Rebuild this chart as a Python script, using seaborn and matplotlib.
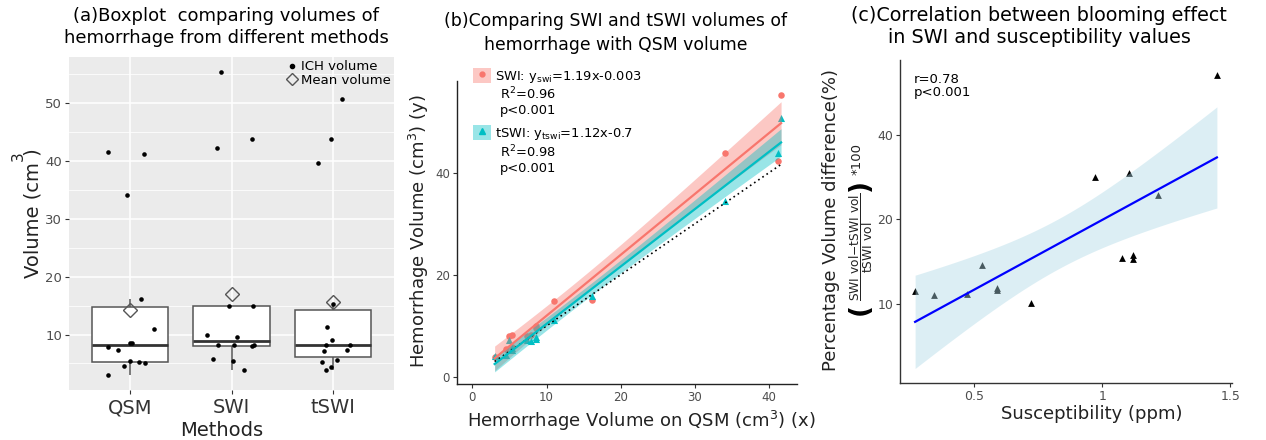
import numpy as np
import pandas as pd
import matplotlib
matplotlib.use("Agg")
import matplotlib.pyplot as plt
import seaborn as sns
from matplotlib.lines import Line2D
from matplotlib.patches import Patch

# ---------------- data ----------------
methods = ["QSM", "SWI", "tSWI"]
qsm_vol = [41.65, 41.2, 34.1, 16.1, 11.0, 8.55, 8.55, 7.9, 7.3, 5.4, 5.3, 5.0, 4.5, 3.0]
swi_vol = [55.35, 43.8, 42.3, 15.0, 14.9, 10.0, 9.65, 8.2, 8.2, 8.1, 7.98, 5.84, 5.5, 3.93]
tswi_vol = [50.75, 43.8, 39.6, 15.3, 11.3, 9.0, 8.2, 8.1, 7.4, 7.2, 5.66, 5.26, 4.33, 3.8]

qsm_x = [3.0, 4.5, 5.0, 5.3, 5.4, 7.3, 7.9, 8.55, 8.55, 11.0, 16.1, 34.1, 41.2, 41.65]
swi_y = [3.93, 5.5, 8.1, 8.2, 5.84, 7.98, 8.2, 9.65, 10.0, 14.9, 15.0, 43.8, 42.3, 55.35]
tswi_y = [4.0, 4.33, 7.3, 5.3, 5.7, 7.2, 7.1, 7.4, 7.9, 11.2, 15.8, 34.5, 43.8, 50.8]

susceptibility = [0.269, 0.342, 0.470, 0.531, 0.587, 0.590, 0.723, 0.971, 1.077, 1.103, 1.121, 1.121, 1.216, 1.448]
pct_diff = [11.1, 10.8, 10.85, 13.7, 11.2, 11.4, 10.1, 28.3, 14.6, 29.1, 14.9, 14.5, 24.3, 65.3]

legend_a = ["ICH volume", "Mean volume"]
legend_b = ["SWI: y$_{\\mathrm{swi}}$=1.19x-0.003", "tSWI: y$_{\\mathrm{tswi}}$=1.12x-0.7"]
stats_b = ["R$^2$=0.96\np<0.001", "R$^2$=0.98\np<0.001"]
stats_c = "r=0.78\np<0.001"

RED = "#F8766D"
TEAL = "#00BFC4"
W, H = 1266, 440
T12 = 2.179  # t quantile, 95 %, 12 degrees of freedom (n = 14)

plt.rcParams["font.family"] = ["DejaVu Sans"]
fig = plt.figure(figsize=(W / 100, H / 100), dpi=100)


def fx(px):
    return px / W


def fy(py):
    return 1 - py / H


def axrect(l, t, r, b):
    return [fx(l), fy(b), fx(r) - fx(l), (b - t) / H]


def lm_band(x, y, n=100):
    """95% confidence band of a simple linear fit (as in geom_smooth(method='lm'))."""
    x = np.asarray(x, float)
    y = np.asarray(y, float)
    b1, b0 = np.polyfit(x, y, 1)
    res = y - (b0 + b1 * x)
    s = np.sqrt(np.sum(res ** 2) / (len(x) - 2))
    g = np.linspace(x.min(), x.max(), n)
    se = s * np.sqrt(1 / len(x) + (g - x.mean()) ** 2 / np.sum((x - x.mean()) ** 2))
    fit = b0 + b1 * g
    return g, fit - T12 * se, fit + T12 * se


# ---------------- panel (a) ----------------
ax = fig.add_axes(axrect(69, 57, 394, 390))
ax.set_facecolor("#EBEBEB")
df_a = pd.DataFrame({"Methods": np.repeat(methods, len(qsm_vol)),
                     "Volume": qsm_vol + swi_vol + tswi_vol})
ax.set_axisbelow(True)
sns.boxplot(data=df_a, x="Methods", y="Volume", ax=ax, color="white",
            linecolor="#555555", linewidth=1.1, width=0.75, showfliers=False,
            showcaps=False, medianprops=dict(color="#333333", linewidth=2.0))
np.random.seed(7)
sns.stripplot(data=df_a, x="Methods", y="Volume", ax=ax, color="black",
              size=3.3, jitter=0.25, linewidth=0)
sns.pointplot(data=df_a, x="Methods", y="Volume", ax=ax, estimator="mean",
              errorbar=None, markers="D", linestyles="none", color="#555555",
              markerfacecolor="none", markersize=7, markeredgewidth=1.0)
ax.set_xlim(-0.6, 2.6)
ax.set_ylim(0.4, 58)
ax.set_yticks([10, 20, 30, 40, 50])
ax.set_yticks([5, 15, 25, 35, 45, 55], minor=True)
ax.grid(which="major", color="white", linewidth=1.1)
ax.grid(which="minor", axis="y", color="white", linewidth=0.55)
for s in ax.spines.values():
    s.set_visible(False)
ax.tick_params(axis="y", which="major", length=3, color="#333333",
               labelcolor="#4D4D4D", labelsize=9.5, pad=2)
ax.tick_params(axis="y", which="minor", length=0)
ax.tick_params(axis="x", length=3, color="#333333", labelcolor="#333333",
               labelsize=14, pad=3)
ax.set_xlabel("")
ax.set_ylabel("")
h_a = [Line2D([], [], marker="o", ls="", color="black", markersize=3),
       Line2D([], [], marker="D", ls="", mfc="none", mec="#555555",
              markersize=6, mew=1.0)]
ax.legend(h_a, legend_a, loc="upper right", frameon=False, fontsize=9.5,
          handletextpad=0.2, labelspacing=0.05, borderaxespad=0.15,
          handlelength=1.0, borderpad=0.1)
fig.text(fx(226), fy(7), "(a)Boxplot  comparing volumes of\nhemorrhage from different methods",
         ha="center", va="top", fontsize=13, linespacing=1.3)
fig.text(fx(222), fy(430), "Methods", ha="center", va="center", fontsize=14, color="#222222")
fig.text(fx(33), fy(213), "Volume (cm )", ha="center", va="center",
         rotation=90, fontsize=14, color="#222222")
fig.text(fx(18), fy(156), "3", ha="center", va="center", rotation=90,
         fontsize=11, color="#222222")

# ---------------- panel (b) ----------------
ax = fig.add_axes(axrect(457, 81, 797, 384))
df_b = pd.DataFrame({"qsm": qsm_x, "swi": swi_y, "tswi": tswi_y})
sns.scatterplot(data=df_b, x="qsm", y="swi", ax=ax, color=RED, marker="o",
                s=22, linewidth=0)
sns.scatterplot(data=df_b, x="qsm", y="tswi", ax=ax, color=TEAL, marker="^",
                s=26, linewidth=0)
sns.lineplot(data=df_b, x="qsm", y="qsm", ax=ax, color="black", estimator=None,
             linestyle=(0, (1, 2)), linewidth=1.2)
for col, colour in [("swi", RED), ("tswi", TEAL)]:
    g, lo, hi = lm_band(df_b["qsm"], df_b[col])
    ax.fill_between(g, lo, hi, color=colour, alpha=0.4, linewidth=0)
    sns.regplot(data=df_b, x="qsm", y=col, ax=ax, scatter=False, color=colour,
                line_kws=dict(linewidth=1.6), ci=None)
ax.set_xlim(-2.08, 43.8)
ax.set_ylim(-1.4, 58)
ax.set_xticks([0, 10, 20, 30, 40])
ax.set_yticks([0, 20, 40])
for s in ["top", "right"]:
    ax.spines[s].set_visible(False)
for s in ["left", "bottom"]:
    ax.spines[s].set_color("#222222")
    ax.spines[s].set_linewidth(1.0)
ax.tick_params(length=3, color="#333333", labelcolor="#4D4D4D", labelsize=8.5, pad=2)
ax.set_xlabel("")
ax.set_ylabel("")
h_b = [(Patch(facecolor=RED, alpha=0.4, edgecolor="none"),
        Line2D([], [], marker="o", ls="", color=RED, markersize=3.5)),
       (Patch(facecolor=TEAL, alpha=0.4, edgecolor="none"),
        Line2D([], [], marker="^", ls="", color=TEAL, markersize=4))]
ax.legend(h_b, legend_b, loc="upper left", bbox_to_anchor=(fx(473), fy(68)),
          bbox_transform=fig.transFigure, frameon=False, fontsize=9.4,
          handlelength=1.4, handleheight=1.4, handletextpad=0.3,
          labelspacing=3.05, borderpad=0, borderaxespad=0)
fig.text(fx(500), fy(86), stats_b[0], ha="left", va="top", fontsize=9.4, linespacing=1.15)
fig.text(fx(500), fy(144), stats_b[1], ha="left", va="top", fontsize=9.4, linespacing=1.15)
fig.text(fx(616), fy(12), "(b)Comparing SWI and tSWI volumes of\nhemorrhage with QSM volume",
         ha="center", va="top", fontsize=12.4, linespacing=1.4)
fig.text(fx(641), fy(421), "Hemorrhage Volume on QSM (cm$^3$) (x)", ha="center",
         va="center", fontsize=13, color="#222222")
fig.text(fx(419), fy(231), "Hemorrhage Volume (cm$^3$) (y)", ha="center",
         va="center", rotation=90, fontsize=13, color="#222222")

# ---------------- panel (c) ----------------
ax = fig.add_axes(axrect(900, 60, 1232, 383))
df_c = pd.DataFrame({"susc": susceptibility, "pct": pct_diff})
df_c["log_pct"] = np.log10(df_c["pct"])
sns.scatterplot(data=df_c, x="susc", y="log_pct", ax=ax, color="black",
                marker="^", s=24, linewidth=0)
g, lo, hi = lm_band(df_c["susc"], df_c["log_pct"])
ax.fill_between(g, lo, hi, color=(173 / 255, 216 / 255, 230 / 255, 0.42), linewidth=0)
sns.regplot(data=df_c, x="susc", y="log_pct", ax=ax, scatter=False, ci=None,
            color="#0000FF", line_kws=dict(linewidth=1.6))
ax.set_xlim(0.21, 1.507)
ax.set_ylim(0.719, 1.867)
ax.set_xticks([0.5, 1.0, 1.5])
ax.set_xticklabels(["0.5", "1", "1.5"])
ax.set_yticks(np.log10([10, 20, 40]))
ax.set_yticklabels(["10", "20", "40"])
for s in ["top", "right"]:
    ax.spines[s].set_visible(False)
for s in ["left", "bottom"]:
    ax.spines[s].set_color("#333333")
    ax.spines[s].set_linewidth(1.0)
ax.tick_params(length=3, color="#333333", labelcolor="#4D4D4D", labelsize=9, pad=2)
ax.set_xlabel("")
ax.set_ylabel("")
ax.text(0.04, 0.96, stats_c, transform=ax.transAxes, ha="left", va="top",
        fontsize=9.5, linespacing=1.0)
fig.text(fx(1039), fy(6), "(c)Correlation between blooming effect\nin SWI and susceptibility values",
         ha="center", va="top", fontsize=13.8, linespacing=1.2)
fig.text(fx(1092), fy(414), "Susceptibility (ppm)", ha="center", va="center",
         fontsize=13, color="#222222")
fig.text(fx(831), fy(220), "Percentage Volume difference(%)", ha="center",
         va="center", rotation=90, fontsize=13, color="#222222")
fig.text(fx(861), fy(247),
         r"$\dfrac{\mathrm{SWI\ vol{-}tSWI\ vol}}{\mathrm{tSWI\ vol}}$",
         ha="center", va="center", rotation=90, fontsize=8.8, color="#222222")
fig.text(fx(860), fy(309), "(", ha="center", va="center", rotation=90,
         fontsize=19, color="black", fontweight="bold")
fig.text(fx(860), fy(185), ")", ha="center", va="center", rotation=90,
         fontsize=19, color="black", fontweight="bold")
fig.text(fx(857), fy(159), "*100", ha="center", va="center", rotation=90,
         fontsize=9.5, color="#222222")

fig.savefig("out.png", dpi=100)
